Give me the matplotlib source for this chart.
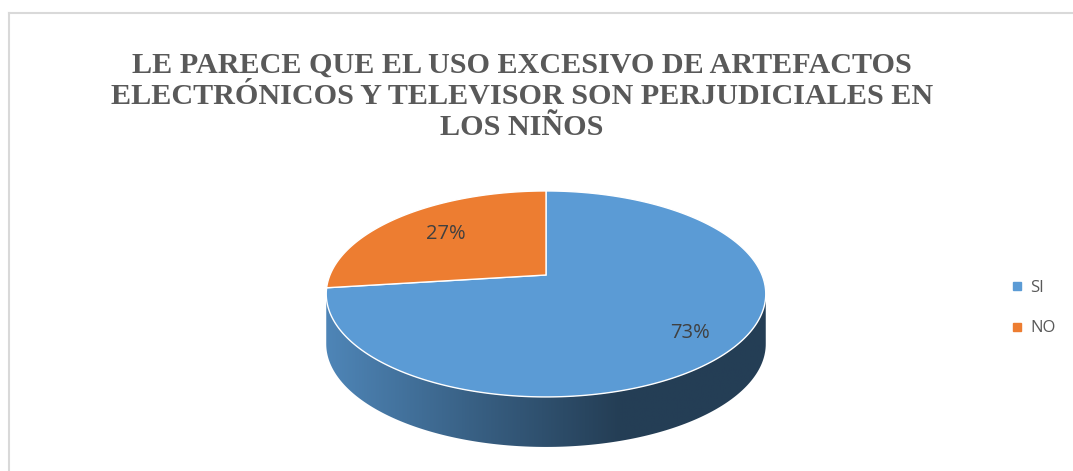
import numpy as np
import matplotlib
matplotlib.use("Agg")
import matplotlib.pyplot as plt
from matplotlib.patches import Polygon
from matplotlib.lines import Line2D
from matplotlib.colors import LinearSegmentedColormap, to_rgb

# data
categories = ["SI", "NO"]
values = [73, 27]
colors = ["#5B9BD5", "#ED7D31"]
title = ("LE PARECE QUE EL USO EXCESIVO DE ARTEFACTOS\n"
         "ELECTRÓNICOS Y TELEVISOR SON PERJUDICIALES EN\n"
         "LOS NIÑOS")

W, H = 1073, 471
fig = plt.figure(figsize=(W / 100, H / 100), dpi=100)
ax = fig.add_axes([0, 0, 1, 1])
ax.set_xlim(0, W)
ax.set_ylim(H, 0)
ax.axis("off")

# pie geometry (pixels), simple perspective of a tilted disc
cx, cy = 546, 275
R, B, k = 216, 99.5, 0.184
depth = 50


def proj(t, r=1.0):
    u, v = r * np.cos(t), r * np.sin(t)
    w = 1 + k * v
    return cx + R * u / w, cy - B * v / w


# wedge angles: clockwise from 12 o'clock
fracs = np.array(values) / np.sum(values)
starts = np.pi / 2 - np.concatenate(([0], np.cumsum(fracs)[:-1])) * 2 * np.pi
ends = starts - fracs * 2 * np.pi

# front side of the cylinder (visible part)
a0 = np.pi + np.arcsin(k)
a1 = 2 * np.pi - np.arcsin(k)
for s, e, c in zip(starts, ends, colors):
    lo, hi = e, s
    for shift in (-2 * np.pi, 0, 2 * np.pi):
        l2, h2 = max(lo + shift, a0), min(hi + shift, a1)
        if h2 <= l2:
            continue
        t = np.linspace(l2, h2, 200)
        xs, ys = proj(t)
        poly = np.vstack([np.column_stack([xs, ys]),
                          np.column_stack([xs[::-1], ys[::-1] + depth])])
        patch = Polygon(poly, closed=True, facecolor="none", edgecolor="none")
        ax.add_patch(patch)
        base = np.array(to_rgb(c))
        cmap = LinearSegmentedColormap.from_list(
            "side", [base * 0.86, base * 0.62, base * 0.40, base * 0.40])
        grad = np.linspace(0, 1, 256).reshape(1, -1)
        x_l, x_r = proj(a0)[0], proj(a1)[0]
        im = ax.imshow(grad, cmap=cmap, aspect="auto",
                       extent=[x_l, x_r, ys.max() + depth + 2, ys.min() - 2],
                       zorder=1)
        im.set_clip_path(patch)

# top face wedges
for s, e, c in zip(starts, ends, colors):
    t = np.linspace(s, e, 300)
    xs, ys = proj(t)
    pts = np.vstack([[cx, cy], np.column_stack([xs, ys])])
    ax.add_patch(Polygon(pts, closed=True, facecolor=c, edgecolor="white",
                         linewidth=1.0, zorder=2))

# percentage labels
label_r = [0.8, 0.67]
for s, e, v, r in zip(starts, ends, values, label_r):
    x, y = proj((s + e) / 2, r)
    ax.text(x, y, f"{v}%", ha="center", va="center", fontsize=14.5,
            color="#404040", family="Open Sans", zorder=3)

# title
fig.text(522 / W, 1 - 96 / H, title, ha="center", va="center",
         fontsize=21.7, fontweight="bold", family="Liberation Serif",
         color="#595959", linespacing=1.2)

# legend
handles = [Line2D([], [], marker="s", linestyle="none", markersize=6,
                  markerfacecolor=c, markeredgecolor=c) for c in colors]
leg = fig.legend(handles, categories, loc="center left",
                 bbox_to_anchor=(995 / W, 1 - 308 / H), frameon=False,
                 handlelength=0.8, handletextpad=0.4, labelspacing=1.5,
                 prop={"family": "Open Sans", "size": 12})
for txt in leg.get_texts():
    txt.set_color("#595959")

# chart border (top and left edges visible)
ax.plot([9, W], [13, 13], color="#d9d9d9", linewidth=1.5, zorder=0)
ax.plot([9, 9], [13, H], color="#d9d9d9", linewidth=1.5, zorder=0)

fig.savefig("out.png", dpi=100)
